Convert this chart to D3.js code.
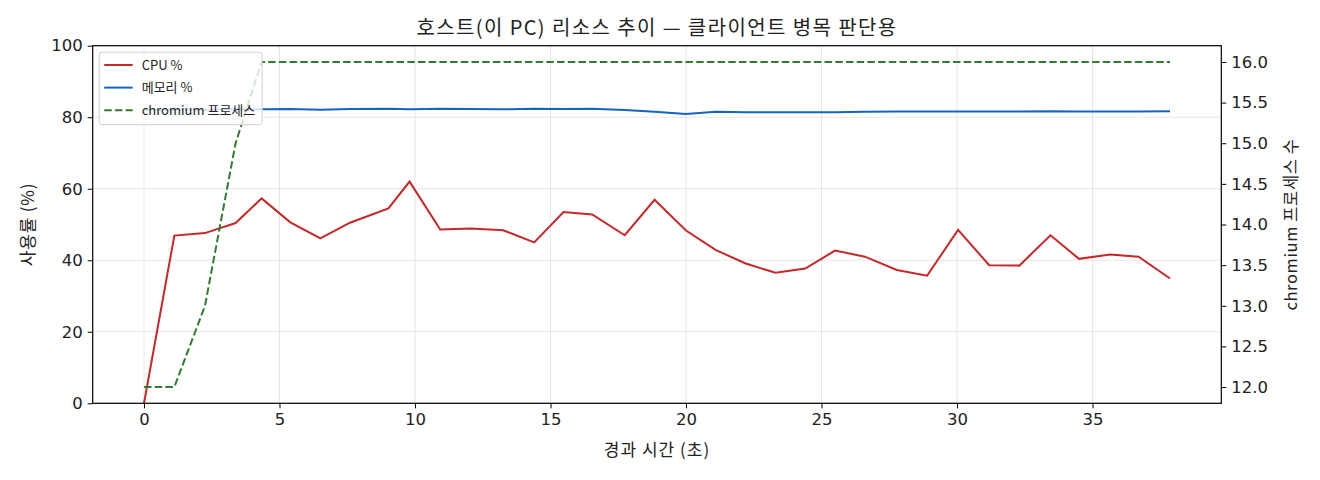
<!DOCTYPE html>
<html>
<head>
<meta charset="utf-8">
<script src="https://cdn.jsdelivr.net/npm/d3@7"></script>
<style>
  body { margin: 0; background: #fff; }
  text { font-family: "Noto Sans CJK KR", "Noto Sans", sans-serif; fill: #222; }
  .tick text { font-family: "DejaVu Sans", sans-serif; font-size: 16.5px; }
</style>
</head>
<body>
<div id="chart"></div>
<script>
// data
var times = [0, 1.12, 2.25, 3.38, 4.34, 5.40, 6.51, 7.60, 9.02, 9.80, 10.93, 12.06, 13.25, 14.4,
  15.48, 16.54, 17.74, 18.84, 20.0, 21.09, 22.2, 23.3, 24.4, 25.5, 26.6, 27.78, 28.9, 30.04,
  31.19, 32.3, 33.45, 34.5, 35.65, 36.7, 37.86];
var cpu = [0, 46.9, 47.6, 50.4, 57.3, 50.6, 46.1, 50.5, 54.5, 62.0, 48.6, 48.9, 48.4, 45.0,
  53.5, 52.8, 47.0, 56.9, 48.3, 42.9, 39.1, 36.5, 37.7, 42.7, 41.0, 37.3, 35.7, 48.5,
  38.6, 38.5, 47.0, 40.4, 41.6, 41.0, 34.9];
var memory = [82.0, 82.1, 82.1, 82.2, 82.2, 82.3, 82.1, 82.3, 82.4, 82.2, 82.4, 82.3, 82.2, 82.4,
  82.3, 82.4, 82.0, 81.5, 80.9, 81.5, 81.4, 81.4, 81.4, 81.4, 81.5, 81.6, 81.6, 81.6,
  81.6, 81.6, 81.7, 81.6, 81.6, 81.6, 81.7];
var chromium = [12, 12, 13, 15, 16, 16, 16, 16, 16, 16, 16, 16, 16, 16,
  16, 16, 16, 16, 16, 16, 16, 16, 16, 16, 16, 16, 16, 16,
  16, 16, 16, 16, 16, 16, 16];
var xTicks = [0, 5, 10, 15, 20, 25, 30, 35];
var leftTicks = [0, 20, 40, 60, 80, 100];
var rightTicks = [12.0, 12.5, 13.0, 13.5, 14.0, 14.5, 15.0, 15.5, 16.0];
var seriesNames = ["CPU %", "메모리 %", "chromium 프로세스"];

var svgWidth = 1320;
var svgHeight = 480;
var margin = { top: 45.7, right: 98.7, bottom: 76.7, left: 92.7 };
var width = svgWidth - margin.left - margin.right;
var height = svgHeight - margin.top - margin.bottom;

var svg = d3.select("#chart")
  .append("svg")
  .attr("width", svgWidth)
  .attr("height", svgHeight);

var chartGroup = svg.append("g")
  .attr("transform", `translate(${margin.left}, ${margin.top})`);

// matplotlib-style 5% padding on x
var xMin = d3.min(times), xMax = d3.max(times);
var pad = (xMax - xMin) * 0.05;
var xScale = d3.scaleLinear().domain([xMin - pad, xMax + pad]).range([0, width]);
var yLeft = d3.scaleLinear().domain([0, 100]).range([height, 0]);
var yRight = d3.scaleLinear().domain([11.8, 16.2]).range([height, 0]);

// grid
chartGroup.append("g")
  .selectAll("line")
  .data(xTicks)
  .enter().append("line")
  .attr("x1", d => xScale(d)).attr("x2", d => xScale(d))
  .attr("y1", 0).attr("y2", height)
  .attr("stroke", "#b0b0b0").attr("stroke-opacity", 0.3).attr("stroke-width", 1);
chartGroup.append("g")
  .selectAll("line")
  .data(leftTicks)
  .enter().append("line")
  .attr("x1", 0).attr("x2", width)
  .attr("y1", d => yLeft(d)).attr("y2", d => yLeft(d))
  .attr("stroke", "#b0b0b0").attr("stroke-opacity", 0.3).attr("stroke-width", 1);

// lines
var idx = d3.range(times.length);
var cpuLine = d3.line().x(i => xScale(times[i])).y(i => yLeft(cpu[i]));
var memLine = d3.line().x(i => xScale(times[i])).y(i => yLeft(memory[i]));
var chrLine = d3.line().x(i => xScale(times[i])).y(i => yRight(chromium[i]));

chartGroup.append("path").datum(idx).attr("d", cpuLine)
  .attr("fill", "none").attr("stroke", "#c62828").attr("stroke-width", 2);
chartGroup.append("path").datum(idx).attr("d", memLine)
  .attr("fill", "none").attr("stroke", "#1565c0").attr("stroke-width", 2);
chartGroup.append("path").datum(idx).attr("d", chrLine)
  .attr("fill", "none").attr("stroke", "#2e7d32").attr("stroke-width", 2)
  .attr("stroke-dasharray", "7.5,3.2");

// axes
var bottomAxis = d3.axisBottom(xScale).tickValues(xTicks).tickSize(5).tickPadding(5).tickFormat(d3.format("d"));
var leftAxis = d3.axisLeft(yLeft).tickValues(leftTicks).tickSize(5).tickPadding(5).tickFormat(d3.format("d"));
var rightAxis = d3.axisRight(yRight).tickValues(rightTicks).tickSize(5).tickPadding(5).tickFormat(d3.format(".1f"));

chartGroup.append("g").attr("transform", `translate(0, ${height})`).call(bottomAxis);
chartGroup.append("g").call(leftAxis);
chartGroup.append("g").attr("transform", `translate(${width}, 0)`).call(rightAxis);
chartGroup.selectAll(".domain").remove();
chartGroup.selectAll(".tick line").attr("stroke", "#000");
chartGroup.selectAll(".tick text").attr("fill", "#222");

// frame
chartGroup.append("rect")
  .attr("width", width).attr("height", height)
  .attr("fill", "none").attr("stroke", "#000").attr("stroke-width", 1.2);

// legend
var legend = chartGroup.append("g").attr("transform", "translate(6.5, 6.5)");
legend.append("rect")
  .attr("width", 163).attr("height", 72.5).attr("rx", 3)
  .attr("fill", "#fff").attr("fill-opacity", 0.8)
  .attr("stroke", "#d0d0d0").attr("stroke-width", 1);
var legendColors = ["#c62828", "#1565c0", "#2e7d32"];
seriesNames.forEach(function(name, i) {
  var y = 12.8 + i * 22.6;
  legend.append("line")
    .attr("x1", 5).attr("x2", 33.5).attr("y1", y).attr("y2", y)
    .attr("stroke", legendColors[i]).attr("stroke-width", 2)
    .attr("stroke-dasharray", i === 2 ? "7.5,3.2" : null);
  legend.append("text")
    .attr("x", 42.5).attr("y", y).attr("dy", "0.35em")
    .style("font-size", "13px")
    .text(name);
});

// titles
svg.append("text")
  .attr("x", margin.left + width / 2).attr("y", 28).attr("dy", "0.35em")
  .attr("text-anchor", "middle").style("font-size", "20px").style("letter-spacing", "1.4px")
  .text("호스트(이 PC) 리소스 추이 — 클라이언트 병목 판단용");

svg.append("text")
  .attr("x", margin.left + width / 2).attr("y", 450).attr("dy", "0.35em")
  .attr("text-anchor", "middle").style("font-size", "17px").style("letter-spacing", "1px")
  .text("경과 시간 (초)");

svg.append("text")
  .attr("transform", `translate(28, ${margin.top + height / 2}) rotate(-90)`)
  .attr("dy", "0.35em")
  .attr("text-anchor", "middle").style("font-size", "17px").style("letter-spacing", "0.8px")
  .text("사용률 (%)");

svg.append("text")
  .attr("transform", `translate(1291, ${margin.top + height / 2}) rotate(-90)`)
  .attr("dy", "0.35em")
  .attr("text-anchor", "middle").style("font-size", "16.5px").style("letter-spacing", "0.6px")
  .text("chromium 프로세스 수");
</script>
</body>
</html>
